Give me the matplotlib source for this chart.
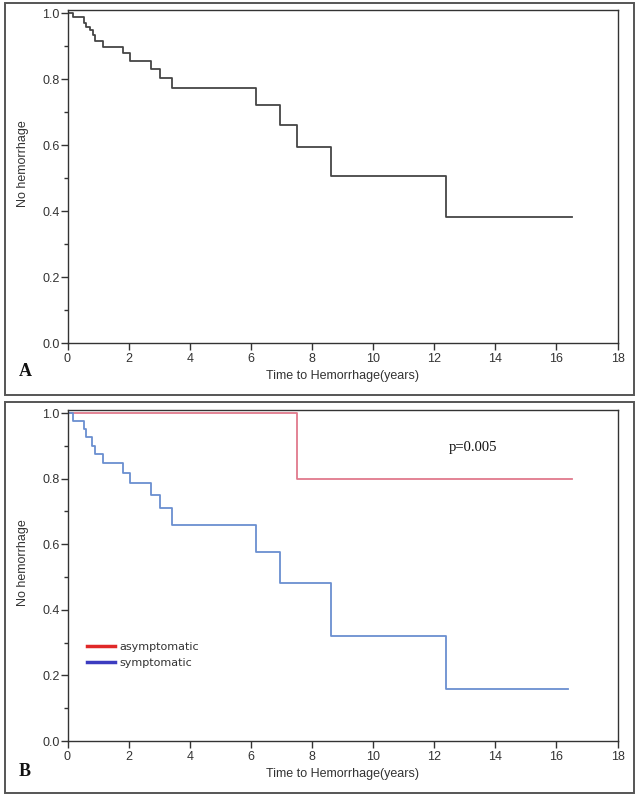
import matplotlib
matplotlib.use("Agg")
import matplotlib.pyplot as plt
from matplotlib.patches import Rectangle
from matplotlib.lines import Line2D

# ---- data ----
a_times = [0, 0.17, 0.53, 0.62, 0.75, 0.83, 0.89, 1.16, 1.81, 2.06, 2.74, 3.04, 3.43,
           6.17, 6.94, 7.52, 8.61, 12.40, 16.5]
a_surv = [1.0, 0.987, 0.971, 0.958, 0.948, 0.934, 0.916, 0.896, 0.878, 0.855, 0.830,
          0.804, 0.774, 0.722, 0.660, 0.594, 0.507, 0.381, 0.381]

asym_times = [0, 7.52, 16.5]
asym_surv = [1.0, 0.798, 0.798]

sym_times = [0, 0.17, 0.53, 0.62, 0.81, 0.89, 1.16, 1.81, 2.06, 2.74, 3.04, 3.43,
             6.17, 6.94, 8.61, 12.39, 16.37]
sym_surv = [1.0, 0.976, 0.950, 0.928, 0.899, 0.875, 0.847, 0.818, 0.788, 0.751,
            0.711, 0.660, 0.577, 0.481, 0.320, 0.159, 0.159]

x_ticks = [0, 2, 4, 6, 8, 10, 12, 14, 16, 18]
y_ticks = [0.0, 0.2, 0.4, 0.6, 0.8, 1.0]
y_minor = [0.1, 0.3, 0.5, 0.7, 0.9]
legend_labels = ["asymptomatic", "symptomatic"]

W, H = 642, 798
fig = plt.figure(figsize=(W / 100, H / 100), dpi=100)

def fx(px):
    return px / W

def fy(py):
    return 1 - py / H

# panel frames
for (x0, y0, x1, y1) in [(5, 3, 634, 395), (5, 402, 634, 793)]:
    fig.patches.append(Rectangle((fx(x0), fy(y1)), fx(x1) - fx(x0), fy(y0) - fy(y1),
                                 transform=fig.transFigure, fill=False,
                                 edgecolor="#555555", linewidth=1.4))

tick_font = dict(family="Liberation Sans", size=9)
spine_col = "#333333"

def style_axes(ax):
    ax.set_xlim(0, 18)
    ax.set_ylim(0, 1.008)
    ax.set_xticks(x_ticks)
    ax.set_yticks(y_ticks)
    ax.set_yticks(y_minor, minor=True)
    ax.set_xticklabels([str(t) for t in x_ticks], fontdict=tick_font, color="#333333")
    ax.set_yticklabels([f"{t:.1f}" for t in y_ticks], fontdict=tick_font, color="#333333")
    ax.tick_params(axis="both", which="major", length=5, width=1, color=spine_col)
    ax.tick_params(axis="x", which="major", pad=2)
    ax.tick_params(axis="y", which="major", pad=0.5)
    ax.tick_params(axis="y", which="minor", length=3, width=1, color=spine_col)
    for s in ax.spines.values():
        s.set_color(spine_col)
        s.set_linewidth(1.0)
    ax.set_xlabel("Time to Hemorrhage(years)", family="Liberation Sans", size=9,
                  color="#333333", labelpad=4)
    ax.set_ylabel("No hemorrhage", family="Liberation Sans", size=9, color="#333333")
    ax.yaxis.set_label_coords(-0.07, 0.54)

left, right = fx(67.5), fx(617.5)

# Panel A
axA = fig.add_axes([left, fy(343), right - left, fy(10.4) - fy(343)])
axA.step(a_times, a_surv, where="post", color="#454545", linewidth=1.3)
style_axes(axA)
fig.text(fx(25), fy(371), "A", family="Liberation Serif", weight="bold", size=13,
         ha="center", va="center", color="#111111")

# Panel B
axB = fig.add_axes([left, fy(741), right - left, fy(410.4) - fy(741)])
axB.step(asym_times, asym_surv, where="post", color="#e07a8c", linewidth=1.3)
axB.step(sym_times, sym_surv, where="post", color="#6a8fd0", linewidth=1.3)
style_axes(axB)
axB.text(13.27, 0.896, "p=0.005", family="Liberation Serif", size=10.5, color="#111111",
         ha="center", va="center")
handles = [Line2D([], [], color="#e02828", linewidth=2.5),
           Line2D([], [], color="#3c3cc0", linewidth=2.5)]
axB.legend(handles, legend_labels, loc="upper left", bbox_to_anchor=(0.018, 0.33),
           frameon=False, prop=dict(family="DejaVu Sans", size=8),
           handlelength=2.5, handletextpad=0.4, labelspacing=0.55, labelcolor="#333333")
fig.text(fx(25), fy(772), "B", family="Liberation Serif", weight="bold", size=13,
         ha="center", va="center", color="#111111")

fig.savefig("out.png", dpi=100)
